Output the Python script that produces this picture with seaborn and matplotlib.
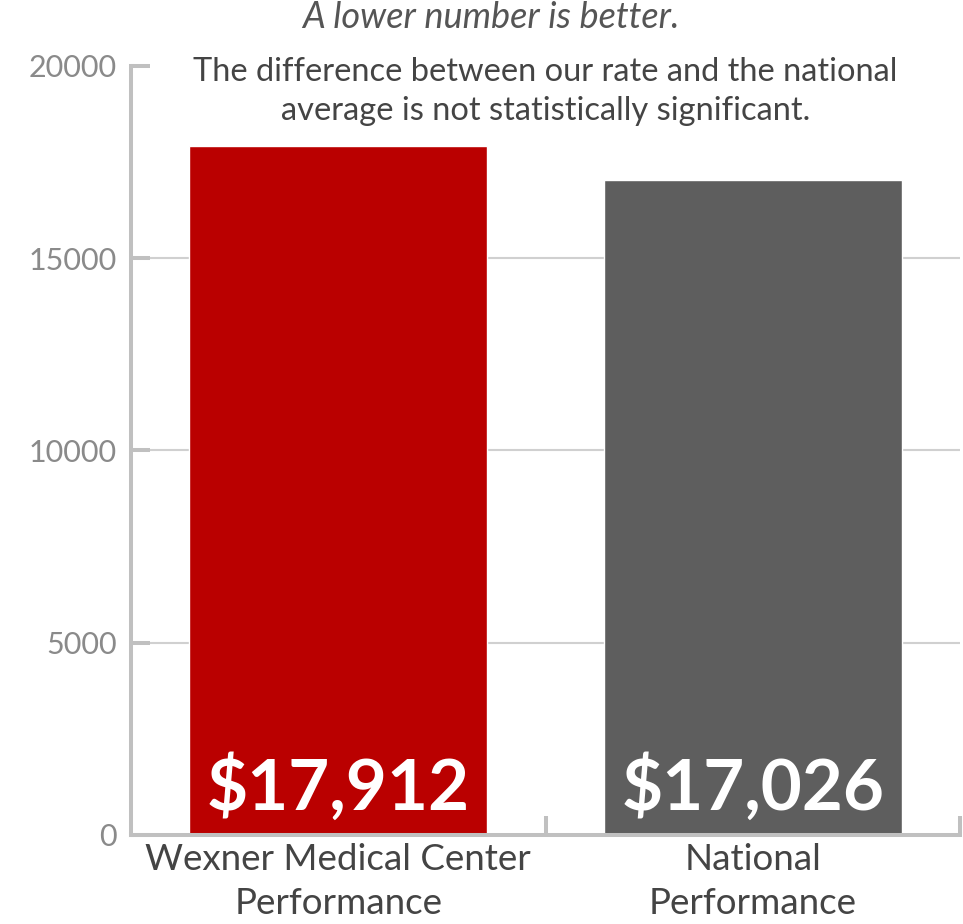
import matplotlib
matplotlib.use("Agg")
import matplotlib.pyplot as plt
import seaborn as sns
import pandas as pd

# data
categories = ["Wexner Medical Center\nPerformance", "National\nPerformance"]
values = [17912, 17026]
value_labels = ["$17,912", "$17,026"]
bar_colors = ["#BA0000", "#5E5E5E"]
y_ticks = [0, 5000, 10000, 15000, 20000]

title = "A lower number is better."
note = "The difference between our rate and the national\naverage is not statistically significant."

sns.set_style("white")
plt.rcParams["font.family"] = ["Lato", "DejaVu Sans"]

df = pd.DataFrame({"category": categories, "value": values})

fig = plt.figure(figsize=(9.63, 9.24), dpi=100)
ax = fig.add_axes([131 / 963, 1 - 835 / 924, (960 - 131) / 963, (835 - 66) / 924])

sns.barplot(data=df, x="category", y="value", hue="category",
            palette=bar_colors, width=0.72, legend=False, ax=ax, saturation=1)

ax.set_xlim(-0.5, 1.5)
ax.set_ylim(0, 20000)
ax.set_yticks(y_ticks)
ax.set_yticklabels([str(t) for t in y_ticks], fontsize=22, color="#8a8a8a")

# light grid
for t in y_ticks[1:-1]:
    ax.axhline(t, color="#d0d0d0", lw=1.5, zorder=0)

# spines
grey = "#c0c0c0"
for s in ["top", "right"]:
    ax.spines[s].set_visible(False)
for s in ["left", "bottom"]:
    ax.spines[s].set_color(grey)
    ax.spines[s].set_linewidth(2.9)

ax.tick_params(axis="y", direction="in", length=14, width=2.9, color=grey, pad=10, left=True)
ax.tick_params(axis="x", length=0, pad=6, labelsize=26.5, labelcolor="#444444")
ax.set_xticks([0.5, 1.5], minor=True)
ax.tick_params(axis="x", which="minor", direction="in", length=14, width=2.9, color=grey, bottom=True)
for lab in ax.get_xticklabels():
    lab.set_linespacing(1.4)

ax.set_xlabel("")
ax.set_ylabel("")

# value labels inside bars
for i, (v, lab) in enumerate(zip(values, value_labels)):
    ax.text(i, 650, lab, ha="center", va="baseline", color="white",
            fontsize=51, fontweight="bold")

ax.text(0.5, 1.012, note, transform=ax.transAxes, ha="center", va="top",
        fontsize=23.5, color="#444444", linespacing=1.4)
fig.text(491 / 963, 1 - 17 / 924, title, ha="center", va="center",
         fontsize=26, color="#555555", style="italic")

fig.savefig("out.png", dpi=100)
